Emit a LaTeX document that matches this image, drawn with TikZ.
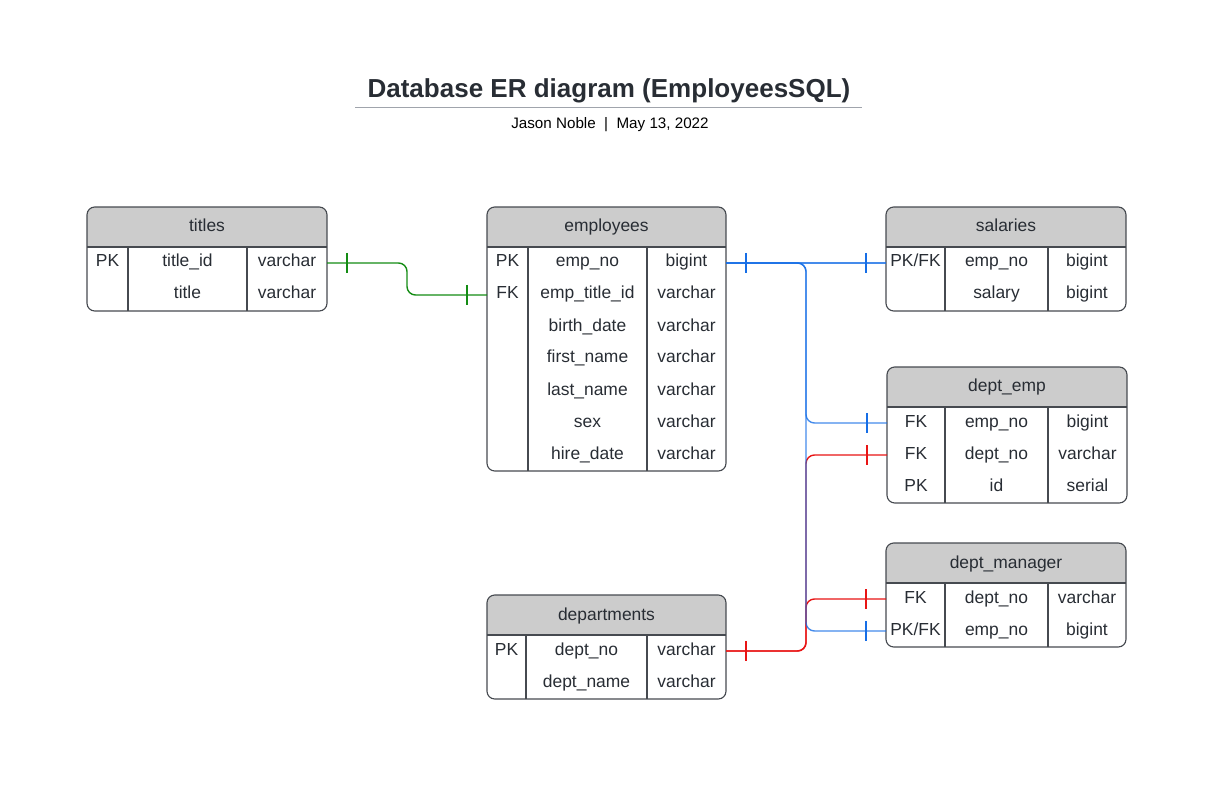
\documentclass[tikz,border=0pt]{standalone}
\usepackage{fontspec}
\setmainfont{Liberation Sans}
\definecolor{inkgray}{RGB}{40,45,52}
\definecolor{framegray}{RGB}{70,74,80}
\definecolor{headgray}{RGB}{204,204,204}
\definecolor{rulegray}{RGB}{160,164,172}
\definecolor{relgreen}{RGB}{20,140,20}
\definecolor{relblue}{RGB}{22,110,230}
\definecolor{relred}{RGB}{232,20,20}

% one table: name, left x, key column x, type column x, right x, top y, rows, title, row list
\newcommand{\ertable}[9]{%
  \pgfmathsetmacro{\erbot}{#6+40+32*#7}
  \begin{scope}
    \clip[rounded corners=5.5pt] (#2,#6) rectangle (#5,\erbot);
    \fill[headgray] (#2,#6) rectangle (#5,#6+40);
  \end{scope}
  \draw[frame,rounded corners=5.5pt] (#2,#6) rectangle (#5,\erbot);
  \draw[frame] (#2,#6+40) -- (#5,#6+40) (#3,#6+40) -- (#3,\erbot) (#4,#6+40) -- (#4,\erbot);
  \node[cell] (#1) at ({(#2+#5)/2},#6+25) {#8};
  \foreach \kind/\field/\type [count=\r] in {#9} {
    \pgfmathsetmacro{\rowy}{#6+40+32*\r-16}
    \coordinate (#1-\r-w) at (#2,\rowy);
    \coordinate (#1-\r-e) at (#5,\rowy);
    \node[cell] (#1-\r-k) at ({(#2+#3)/2},\rowy+4) {\kind};
    \node[cell] (#1-\r-f) at ({(#3+#4)/2},\rowy+4) {\field};
    \node[cell] (#1-\r-t) at ({(#4+#5)/2},\rowy+4) {\type};
  }
}

\begin{document}
\begin{tikzpicture}[
  x=0.025cm,y=-0.025cm,
  frame/.style={draw=framegray,line width=0.8pt},
  cell/.style={anchor=base,inner sep=0pt,text=inkgray,font=\fontsize{12.4}{15}\selectfont},
  rel/.style={line width=1pt,rounded corners=6pt},
  tick/.style={line width=1pt},
]
  \useasboundingbox (0,0) rectangle (1219,788);

  % heading
  \node[font=\fontsize{18.5}{22}\selectfont\bfseries,text=inkgray] (title) at (609,91) {Database ER diagram (EmployeesSQL)};
  \draw[rulegray,line width=1.3pt] (355,107.5) coordinate (rule-w) -- (862,107.5) coordinate (rule-e);
  \node[font=\fontsize{10.8}{13}\selectfont,text=black] (byline) at (610,124.5) {Jason Noble~~|~~May 13, 2022};

  % tables
  \ertable{titles}{87}{128}{247}{327}{207}{2}{titles}{PK/title\_id/varchar,/title/varchar}
  \ertable{employees}{487}{528}{647}{726}{207}{7}{employees}{PK/emp\_no/bigint,FK/emp\_title\_id/varchar,/birth\_date/varchar,/first\_name/varchar,/last\_name/varchar,/sex/varchar,/hire\_date/varchar}
  \ertable{salaries}{886}{945}{1048}{1126}{207}{2}{salaries}{{PK/FK}/emp\_no/bigint,/salary/bigint}
  \ertable{deptemp}{887}{945}{1048}{1127}{367}{3}{dept\_emp}{FK/emp\_no/bigint,FK/dept\_no/varchar,PK/id/serial}
  \ertable{deptmgr}{886}{945}{1048}{1126}{543}{2}{dept\_manager}{FK/dept\_no/varchar,{PK/FK}/emp\_no/bigint}
  \ertable{departments}{487}{526}{647}{726}{595}{2}{departments}{PK/dept\_no/varchar,/dept\_name/varchar}

  % relations
  \draw[rel,relgreen] (titles-1-e) -- ++(80,0) |- (employees-2-w);
  \draw[tick,relgreen] (titles-1-e) ++(20,-10) -- ++(0,20);
  \draw[tick,relgreen] (employees-2-w) ++(-20,-10) -- ++(0,20);

  \draw[rel,relred] (departments-1-e) -- ++(80,0) |- (deptemp-2-w);
  \draw[rel,relred] (departments-1-e) -- ++(80,0) |- (deptmgr-1-w);
  \draw[tick,relred] (departments-1-e) ++(20,-10) -- ++(0,20);
  \draw[tick,relred] (deptemp-2-w) ++(-20,-10) -- ++(0,20);
  \draw[tick,relred] (deptmgr-1-w) ++(-20,-10) -- ++(0,20);

  \draw[rel,relblue,opacity=0.8] (employees-1-e) -- (salaries-1-w);
  \draw[rel,relblue,opacity=0.8] (employees-1-e) -- ++(80,0) |- (deptemp-1-w);
  \draw[rel,relblue,opacity=0.8] (employees-1-e) -- ++(80,0) |- (deptmgr-2-w);
  \draw[tick,relblue] (employees-1-e) ++(20,-10) -- ++(0,20);
  \draw[tick,relblue] (salaries-1-w) ++(-20,-10) -- ++(0,20);
  \draw[tick,relblue] (deptemp-1-w) ++(-20,-10) -- ++(0,20);
  \draw[tick,relblue] (deptmgr-2-w) ++(-20,-10) -- ++(0,20);
\end{tikzpicture}
\end{document}
